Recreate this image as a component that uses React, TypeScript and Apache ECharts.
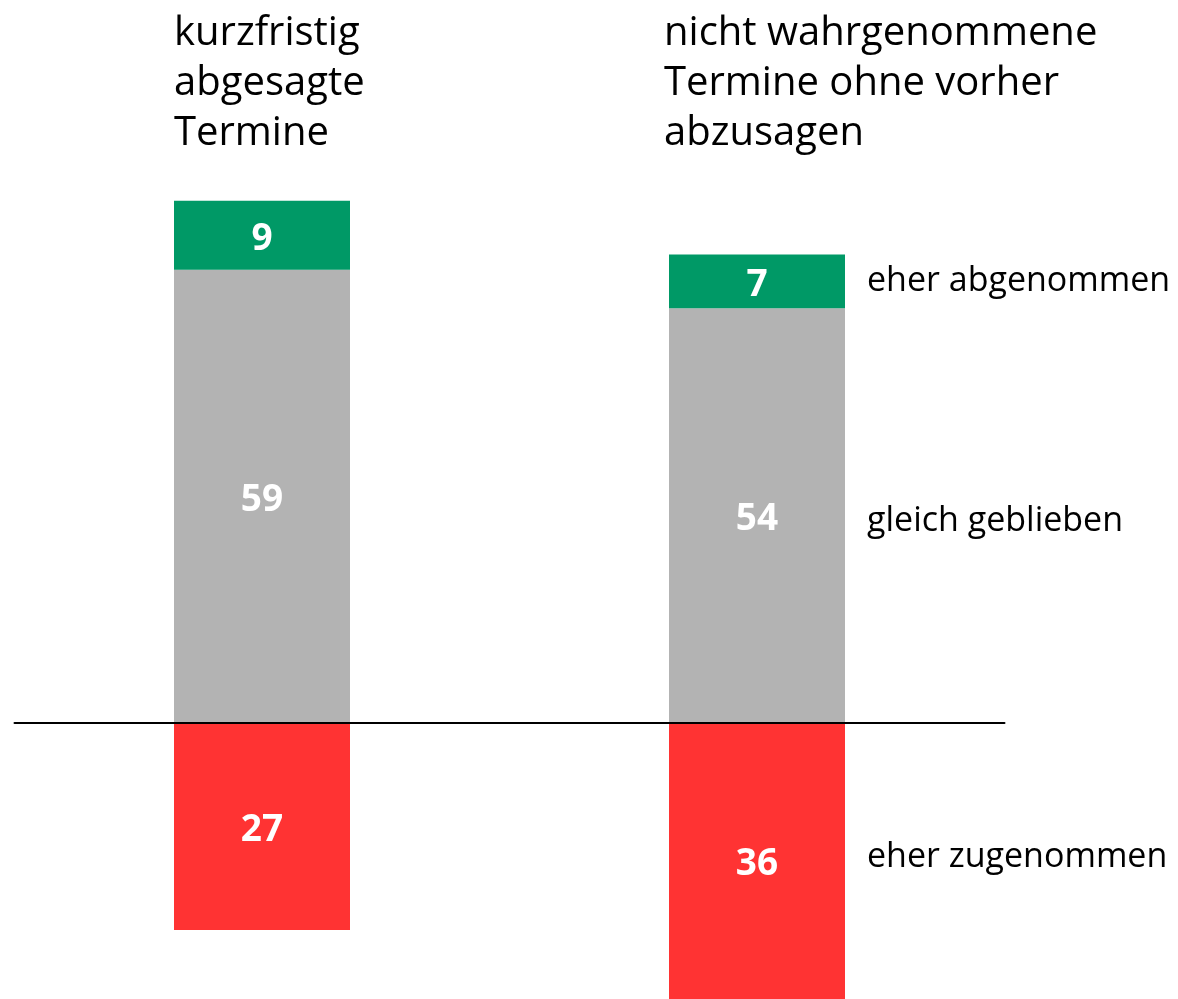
import React, { useEffect, useRef } from "react";
import * as echarts from "echarts";

const categories = [
  "kurzfristig\nabgesagte\nTermine",
  "nicht wahrgenommene\nTermine ohne vorher\nabzusagen",
];
const seriesNames = ["gleich geblieben", "eher abgenommen", "eher zugenommen"];
const gleichGeblieben = [59, 54];
const eherAbgenommen = [9, 7];
const eherZugenommen = [27, 36];
const colors = ["#b3b3b3", "#009966", "#ff3333"];

const FONT = "'Open Sans', 'Noto Sans', sans-serif";
const BAR_W = 176;

export default function App() {
  const ref = useRef<HTMLDivElement>(null);
  useEffect(() => {
    if (!ref.current) return;
    const chart = echarts.init(ref.current, undefined, { renderer: "svg" });
    const valueLabel = {
      show: true,
      position: "inside",
      color: "#fff",
      fontFamily: FONT,
      fontWeight: "bold",
      fontSize: 37,
      formatter: (p: any) => String(Math.abs(p.value)),
    };
    chart.setOption({
      animation: false,
      grid: { left: 14.5, width: 990, top: 185.4, height: 814.08 },
      xAxis: {
        type: "category",
        data: categories,
        axisLine: { show: true, onZero: true, lineStyle: { color: "#000", width: 2 } },
        axisTick: { show: false },
        axisLabel: { show: false },
        z: 10,
      },
      yAxis: {
        type: "value",
        min: -36,
        max: 70,
        show: false,
        splitLine: { show: false },
      },
      series: [
        {
          name: seriesNames[0],
          type: "bar",
          stack: "s",
          barWidth: BAR_W,
          data: gleichGeblieben,
          itemStyle: { color: colors[0] },
          label: valueLabel,
        },
        {
          name: seriesNames[1],
          type: "bar",
          stack: "s",
          barWidth: BAR_W,
          data: eherAbgenommen,
          itemStyle: { color: colors[1] },
          label: valueLabel,
        },
        {
          name: seriesNames[2],
          type: "bar",
          stack: "s",
          barWidth: BAR_W,
          data: eherZugenommen.map((v) => -v),
          itemStyle: { color: colors[2] },
          label: valueLabel,
        },
      ],
    });

    const cx = categories.map((_, i) => chart.convertToPixel({ xAxisIndex: 0 }, i) as number);
    const py = (v: number) => chart.convertToPixel({ yAxisIndex: 0 }, v) as number;
    const last = categories.length - 1;
    const mids = [
      py(gleichGeblieben[last] / 2) + 3,
      py(gleichGeblieben[last] + eherAbgenommen[last] / 2) - 3,
      py(-eherZugenommen[last] / 2) - 7,
    ];
    const graphics: any[] = [];
    categories.forEach((c, i) => {
      graphics.push({
        type: "text",
        x: cx[i] - BAR_W / 2 + (i === 0 ? 0 : -5),
        y: 4,
        style: {
          text: c,
          fill: "#000",
          font: `40px ${FONT}`,
          lineHeight: 50,
          textVerticalAlign: "top",
        },
      });
    });
    seriesNames.forEach((n, i) => {
      graphics.push({
        type: "text",
        x: cx[last] + BAR_W / 2 + 22,
        y: mids[i],
        style: {
          text: n,
          fill: "#000",
          font: `34px ${FONT}`,
          textVerticalAlign: "middle",
        },
      });
    });
    chart.setOption({ graphic: graphics });
    return () => chart.dispose();
  }, []);
  return (
    <div
      ref={ref}
      style={{ position: "fixed", left: 0, top: 0, width: 1178, height: 999 }}
    />
  );
}
